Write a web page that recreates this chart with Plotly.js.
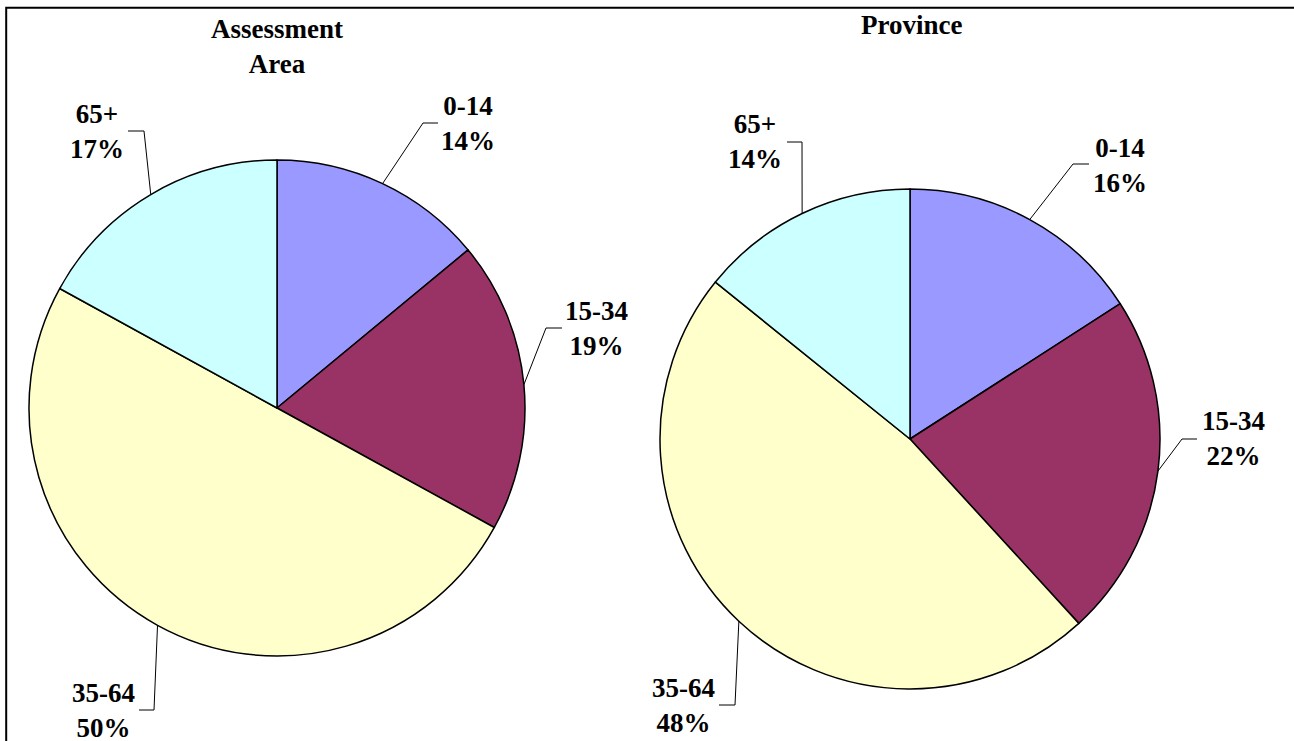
<!DOCTYPE html>
<html>
<head>
<meta charset="utf-8">
<script src="https://cdn.plot.ly/plotly-3.0.1.min.js"></script>
<style>html,body{margin:0;padding:0;background:#fff;}#chart{width:1294px;height:741px;}</style>
</head>
<body>
<div id="chart"></div>
<script>
// ---- data ----
const categories = ['0-14', '15-34', '35-64', '65+'];
const areaValues = [14, 19, 50, 17];
const provinceValues = [15.9, 22.3, 47.6, 14.2];
const pieTitles = ['Assessment<br>Area', 'Province'];

// ---- styles / layout config ----
const W = 1294, H = 741;
const sliceColors = ['#9999FF', '#993366', '#FFFFCC', '#CCFFFF'];
const fontFamily = 'Liberation Serif, Times New Roman, serif';
const fontSize = 27;

const pies = [
  { values: areaValues, title: pieTitles[0], cx: 277, cy: 408, r: 248, titleX: 277, titleY: 46,
    labels: [
      { ex: 423, ey: 123, hx: 438, tx: 468, ty: 123.5 },
      { ex: 546, ey: 328, hx: 562, tx: 596, ty: 328.5 },
      { ex: 154, ey: 710, hx: 139, tx: 103.5, ty: 710.5 },
      { ex: 144, ey: 131, hx: 128, tx: 96.5, ty: 131 }
    ] },
  { values: provinceValues, title: pieTitles[1], cx: 910, cy: 439, r: 250, titleX: 911.5, titleY: 24.5,
    labels: [
      { ex: 1073, ey: 164, hx: 1089, tx: 1120, ty: 165.5 },
      { ex: 1182, ey: 439, hx: 1197, tx: 1233.5, ty: 438.5 },
      { ex: 735, ey: 705, hx: 719, tx: 683.5, ty: 705.5 },
      { ex: 802, ey: 142, hx: 787, tx: 755, ty: 141.5 }
    ] }
];

const traces = [];
const annotations = [];

pies.forEach(p => {
  traces.push({
    type: 'pie',
    labels: categories,
    values: p.values,
    sort: false,
    direction: 'clockwise',
    rotation: 0,
    textinfo: 'none',
    hoverinfo: 'none',
    marker: { colors: sliceColors, line: { color: '#000', width: 1.5 } },
    domain: {
      x: [(p.cx - p.r) / W, (p.cx + p.r) / W],
      y: [(H - p.cy - p.r) / H, (H - p.cy + p.r) / H]
    }
  });

  const total = p.values.reduce((a, b) => a + b, 0);
  let cum = 0;
  const lx = [], ly = [];
  p.values.forEach((v, i) => {
    const mid = (cum + v / 2) / total * 2 * Math.PI;
    cum += v;
    const sx = p.cx + p.r * Math.sin(mid);
    const sy = p.cy - p.r * Math.cos(mid);
    const L = p.labels[i];
    lx.push(sx, L.ex, L.hx, null);
    ly.push(sy, L.ey, L.ey, null);
    annotations.push({
      x: L.tx, y: L.ty, xref: 'x', yref: 'y',
      xanchor: 'center', yanchor: 'middle', align: 'center',
      showarrow: false,
      text: '<b>' + categories[i] + '<br>' + Math.round(v / total * 100) + '%</b>',
      font: { family: fontFamily, size: fontSize, color: '#000' }
    });
  });
  traces.push({
    type: 'scatter', mode: 'lines', x: lx, y: ly,
    line: { color: '#000', width: 1 }, hoverinfo: 'skip', showlegend: false
  });
  annotations.push({
    x: p.titleX, y: p.titleY, xref: 'x', yref: 'y',
    xanchor: 'center', yanchor: 'middle', align: 'center', showarrow: false,
    text: '<b>' + p.title.split('<br>').join('</b><br><b>') + '</b>',
    font: { family: fontFamily, size: fontSize, color: '#000' }
  });
});

const layout = {
  width: W, height: H,
  margin: { l: 0, r: 0, t: 0, b: 0 },
  paper_bgcolor: '#fff', plot_bgcolor: '#fff',
  showlegend: false,
  xaxis: { range: [0, W], visible: false, fixedrange: true },
  yaxis: { range: [H, 0], visible: false, fixedrange: true },
  annotations: annotations,
  shapes: [{
    type: 'rect', xref: 'x', yref: 'y',
    x0: 6.2, y0: 7.8, x1: W + 20, y1: H + 20,
    line: { color: '#000', width: 2 }
  }]
};

Plotly.newPlot('chart', traces, layout, { displayModeBar: false, staticPlot: true });
</script>
</body>
</html>
